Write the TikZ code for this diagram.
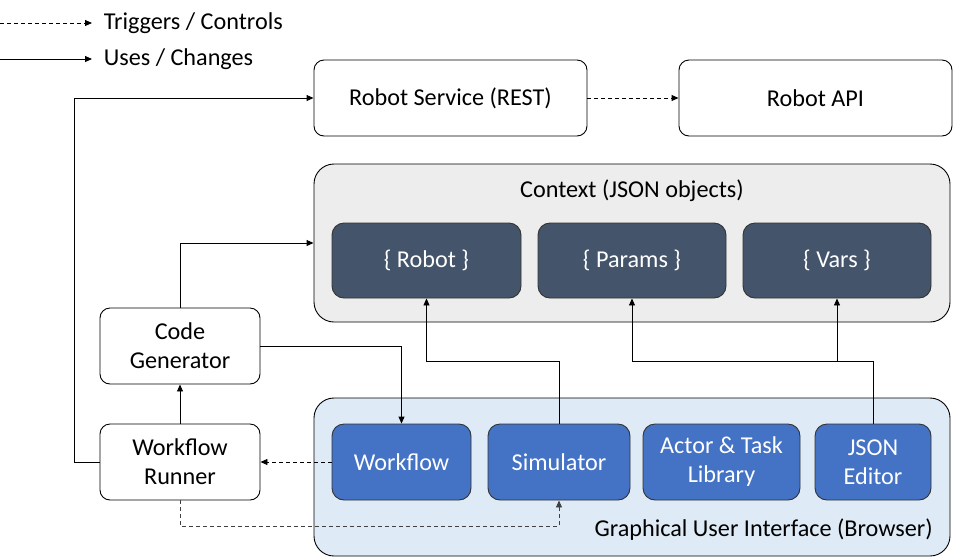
\documentclass[tikz,border=0pt]{standalone}
\usepackage{fontspec}
\setmainfont{Carlito}
\usetikzlibrary{arrows.meta, calc, positioning}
\definecolor{slate}{HTML}{44546A}
\definecolor{guiblue}{HTML}{4472C4}
\definecolor{ctxgray}{HTML}{EDEDED}
\definecolor{guibg}{HTML}{DEEBF7}
\tikzset{
  box/.style={draw, fill=white, rounded corners=10pt, align=center, minimum height=76pt},
  group/.style={draw, rounded corners=20pt, minimum width=636pt, minimum height=158pt},
  ctxitem/.style={draw=black!80, fill=slate, text=white, rounded corners=12pt, minimum height=75pt},
  guiitem/.style={draw=black!80, fill=guiblue, text=white, rounded corners=12pt, align=center, minimum height=76pt},
  trig/.style={dash pattern=on 4pt off 3pt},
}

\begin{document}
\begin{tikzpicture}[x=1pt, y=-1pt, line width=0.9pt, >={Triangle[length=7pt,width=6pt]},
  every node/.style={font=\fontsize{24.2}{29}\selectfont}]
\useasboundingbox (0,0) rectangle (954,558);
%
\node (rs)   [box, minimum width=273pt] at (450.5,98) {Robot Service (REST)};
\node (api)  [box, minimum width=273pt] at (815.5,98) {Robot API};
%
\node (ctx)  [group, fill=ctxgray] at (632,243) {};
\node (ctxlabel) [below=12pt of ctx.north] {Context (JSON objects)};
\node (robot)  [ctxitem, minimum width=189pt] at (426.5,260.5) {\{ Robot \}};
\node (params) [ctxitem, minimum width=188pt] at (632,260.5)   {\{ Params \}};
\node (vars)   [ctxitem, minimum width=188pt] at (837,260.5)   {\{ Vars \}};
%
\node (gui)  [group, fill=guibg] at (632,477) {};
\node (guilabel) [above left=12pt and 14pt of gui.south east] {Graphical User Interface (Browser)};
\node (wf)   [guiitem, minimum width=139pt] at (401.5,462) {Workflow};
\node (sim)  [guiitem, minimum width=142pt] at (559,462)   {Simulator};
\node (lib)  [guiitem, minimum width=157pt] at (721.5,462) {Actor \& Task\\Library};
\node (json) [guiitem, minimum width=116pt] at (873,462)   {JSON\\Editor};
%
\node (cg)   [box, minimum width=160pt] at (180,346) {Code\\Generator};
\node (wr)   [box, minimum width=160pt] at (180,462) {Workflow\\Runner};
%
% legend
\coordinate (t1) at (0,23);
\coordinate (t2) at (92,23);
\coordinate (u1) at (0,59);
\coordinate (u2) at (92,59);
\draw[->, trig] (t1) -- (t2);
\draw[->] (u1) -- (u2);
\node (ttext) [right=8pt of t2] {Triggers / Controls};
\node (utext) [right=8pt of u2] {Uses / Changes};
%
% uses / changes
\draw[->] (wr.west) -- ++(-25,0) |- (rs.west);
\draw[->] (wr.north) -- (cg.south);
\draw[->] (cg.north) |- (ctx.west);
\draw[->] (cg.east) -| (wf.north);
\draw[->] (sim.north) -- ++(0,-62) -| (robot.south);
\draw[->] (json.north) -- ++(0,-62) coordinate (j) -| (params.south);
\draw[->] (j) -| (vars.south);
%
% triggers / controls
\draw[->, trig] (rs.east) -- (api.west);
\draw[->, trig] (wf.west) -- (wr.east);
\draw[->, trig, black!75] (wr.south) -- ++(0,26) -| (sim.south);
\end{tikzpicture}
\end{document}
